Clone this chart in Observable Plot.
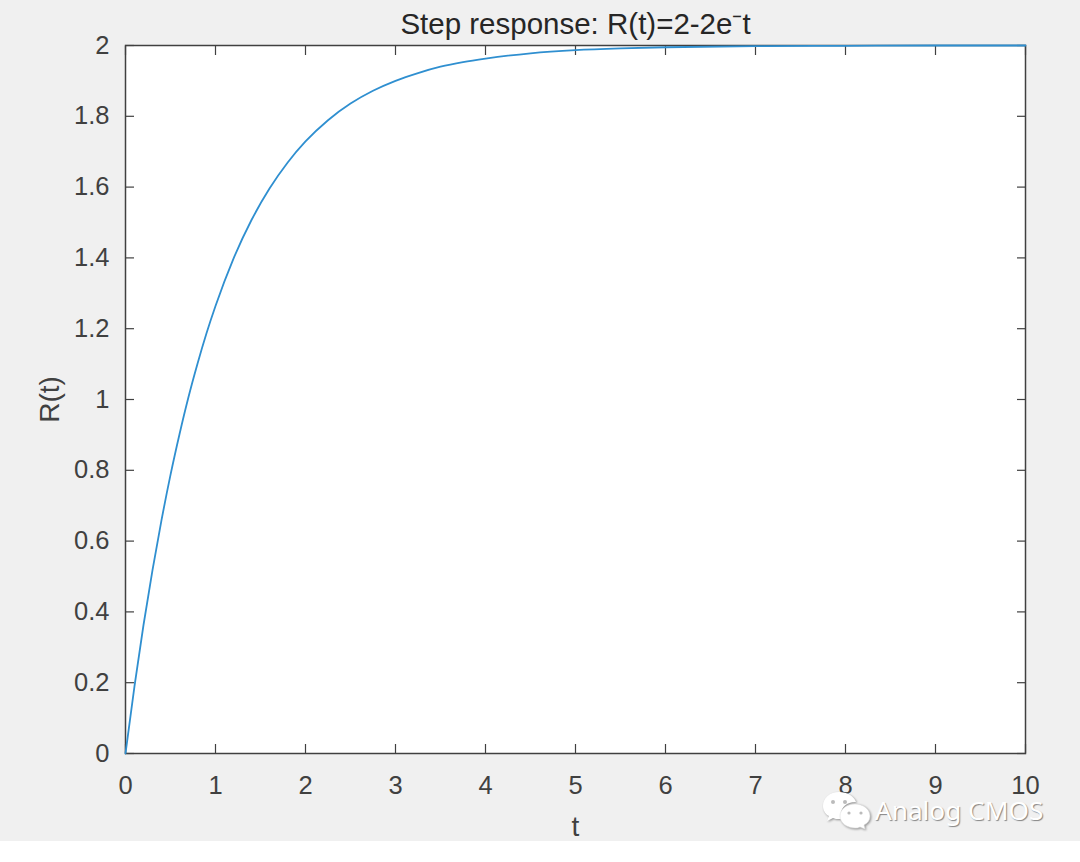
<!DOCTYPE html>
<html>
<head>
<meta charset="utf-8">
<script src="https://cdn.jsdelivr.net/npm/d3@7"></script>
<script src="https://cdn.jsdelivr.net/npm/@observablehq/plot@0.6"></script>
<style>
html,body{margin:0;padding:0;background:#fff;}
#wrap{position:relative;width:1080px;height:862px;overflow:hidden;}
#wrap svg.plot{display:block;}
#mark{position:absolute;left:822px;top:791px;display:flex;align-items:center;color:#fff;font:26.2px "Noto Sans",sans-serif;text-shadow:1px 1px 1px rgba(0,0,0,.45);}
</style>
</head>
<body>
<div id="wrap">
<div id="chart"></div>
<div id="mark"><svg width="50" height="38" viewBox="0 0 50 38" style="margin-right:3px;overflow:visible;filter:drop-shadow(1px 1px 1px rgba(0,0,0,.4))">
<path d="M17 1C8 1 1 7 1 15c0 4 2 8 6 10l-2 5 6-3c2 1 4 1 6 1 1 0 2 0 3 0-1-2-1-3-1-5 0-7 6-12 14-12h1C32 5 25 1 17 1z" fill="#fff"/>
<circle cx="11" cy="11" r="2" fill="#bbb"/><circle cx="23" cy="11" r="2" fill="#bbb"/>
<path d="M33 13c-8 0-15 5-15 12s7 12 15 12c2 0 3 0 5-1l5 2-1-4c4-2 6-5 6-9 0-7-7-12-15-12z" fill="#fff" stroke="#ddd" stroke-width=".6"/>
<circle cx="27" cy="22" r="1.6" fill="#bbb"/><circle cx="39" cy="22" r="1.6" fill="#bbb"/>
</svg><span>Analog CMOS</span></div>
</div>
<script>
const tValues = [0,0.1,0.2,0.3,0.4,0.5,0.6,0.7,0.8,0.9,1,1.2,1.4,1.6,1.8,2,2.25,2.5,2.75,3,3.25,3.5,3.75,4,4.5,5,5.5,6,7,8,9,10];
const rValues = [0,0.19,0.363,0.518,0.659,0.787,0.902,1.007,1.101,1.187,1.264,1.398,1.507,1.596,1.669,1.729,1.789,1.836,1.872,1.900,1.922,1.940,1.953,1.963,1.978,1.987,1.992,1.995,1.998,1.999,2,2];
const xTicks = [0,1,2,3,4,5,6,7,8,9,10];
const yTicks = [0,0.2,0.4,0.6,0.8,1,1.2,1.4,1.6,1.8,2];
const titleText = "Step response: R(t)=2-2e⁻t";
const xLabel = "t";
const yLabel = "R(t)";

const curve = tValues.map((t,i)=>({t, r:rValues[i]}));
const ink = "#404040";
const fmt = d => String(d);

const plot = Plot.plot({
  width:1080, height:841,
  marginLeft:125, marginRight:55, marginTop:45, marginBottom:88,
  style:{background:"#f0f0f0", fontFamily:'"Liberation Sans",Arial,sans-serif', fontSize:"25px", color:ink, overflow:"visible"},
  x:{domain:[0,10], label:null},
  y:{domain:[0,2], label:null},
  marks:[
    Plot.frame({fill:"#fff", stroke:null}),
    Plot.axisX({anchor:"bottom", ticks:xTicks, tickSize:-9, tickPadding:0, stroke:ink, strokeWidth:1.2, text:null}),
    Plot.axisX({anchor:"top", ticks:xTicks, tickSize:-9, stroke:ink, strokeWidth:1.2, text:null, label:null}),
    Plot.axisY({anchor:"left", ticks:yTicks, tickSize:-9, stroke:ink, strokeWidth:1.2, text:null, label:null}),
    Plot.axisY({anchor:"right", ticks:yTicks, tickSize:-9, stroke:ink, strokeWidth:1.2, text:null, label:null}),
    Plot.text(xTicks,{x:d=>d, frameAnchor:"bottom", dy:40, text:fmt, fontSize:25.5, fill:ink}),
    Plot.text(yTicks,{y:d=>d, frameAnchor:"left", dx:-16, textAnchor:"end", text:fmt, fontSize:25.5, fill:ink}),
    Plot.frame({stroke:ink, strokeWidth:1.5}),
    Plot.line(curve,{x:"t", y:"r", curve:"monotone-x", stroke:"#2f8fd0", strokeWidth:1.8}),
    Plot.text([titleText],{frameAnchor:"top", dy:-32, text:d=>d, fontSize:29.5, fill:"#262626"}),
    Plot.text([xLabel],{frameAnchor:"bottom", dy:82, text:d=>d, fontSize:28, fill:ink}),
    Plot.text([yLabel],{frameAnchor:"left", dx:-75, rotate:-90, textAnchor:"middle", text:d=>d, fontSize:28, fill:ink})
  ]
});
document.getElementById("chart").appendChild(plot);
</script>
</body>
</html>
